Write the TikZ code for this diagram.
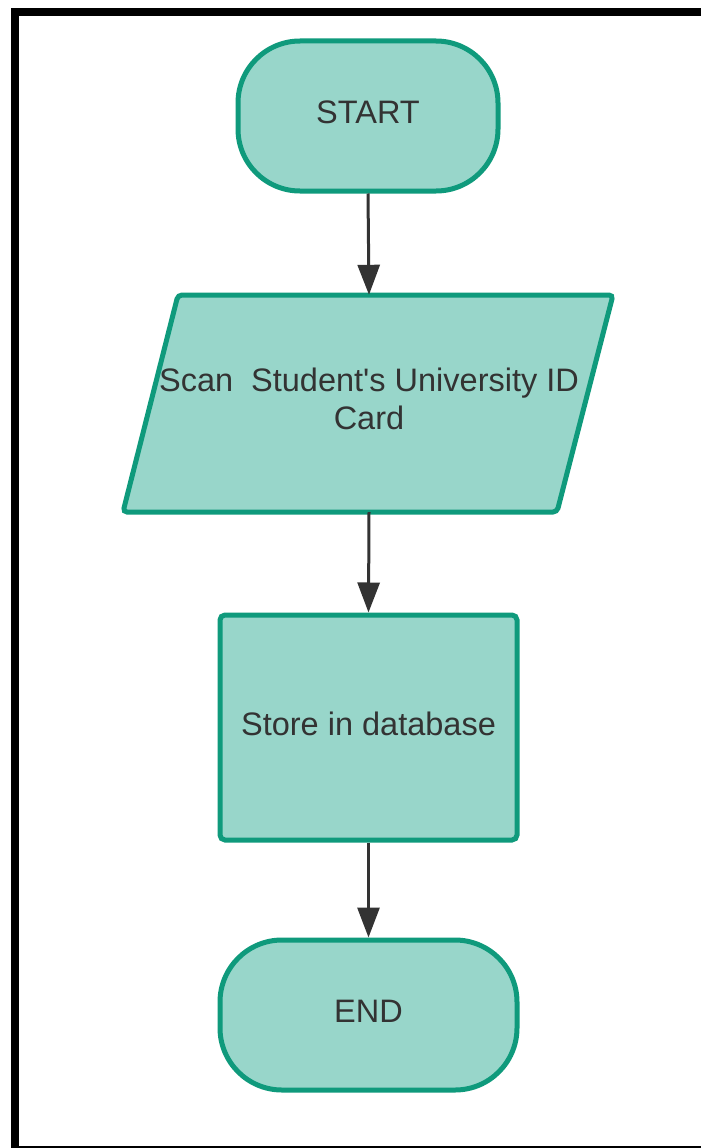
\documentclass[tikz,border=0pt]{standalone}
\usepackage{fontspec}
\newfontfamily\lsans{Liberation Sans}
\usetikzlibrary{arrows.meta}
\definecolor{shapefill}{HTML}{98D6CA}
\definecolor{shapeline}{HTML}{0F9A7C}
\definecolor{txt}{HTML}{333333}
\begin{document}
\begin{tikzpicture}[x=1pt,y=-1pt,
  flowshape/.style={fill=shapefill,draw=shapeline,line width=5pt},
  label/.style={font=\lsans\fontsize{32.5}{38}\selectfont,text=txt,align=center},
  terminal/.style={flowshape,label,text depth=8pt,rounded corners=62pt,minimum height=150pt},
  conn/.style={draw=txt,line width=3pt,-{Triangle[length=30pt,width=22pt]}}]
\useasboundingbox (0,0) rectangle (701,1148);
\fill[white] (0,0) rectangle (701,1148);
% frame
\draw[line width=8pt] (15,1148) -- (15,12) -- (701,12);
\draw[line width=2pt] (11,1147) -- (701,1147);
% start
\node[terminal,minimum width=260pt] (start) at (368,116) {START};
% scan (parallelogram)
\draw[flowshape,rounded corners=4pt] (178,295) -- (613,295) -- (557,512) -- (123,512) -- cycle;
\node[minimum height=217pt,minimum width=10pt,inner sep=0pt] (scan) at (369,403.5) {};
\node[label] (scantext) at (369,399) {Scan\ \ Student's University ID\\Card};
% store
\node[flowshape,label,text depth=8pt,rounded corners=5pt,minimum width=297pt,minimum height=225pt] (store) at (368.5,727.5) {Store in database};
% end
\node[terminal,minimum width=297pt] (end) at (368.5,1015) {END};
% connectors
\draw[conn] (start.south) -- (scan.north);
\draw[conn] (scan.south) -- (store.north);
\draw[conn] (store.south) -- (end.north);
\end{tikzpicture}
\end{document}
